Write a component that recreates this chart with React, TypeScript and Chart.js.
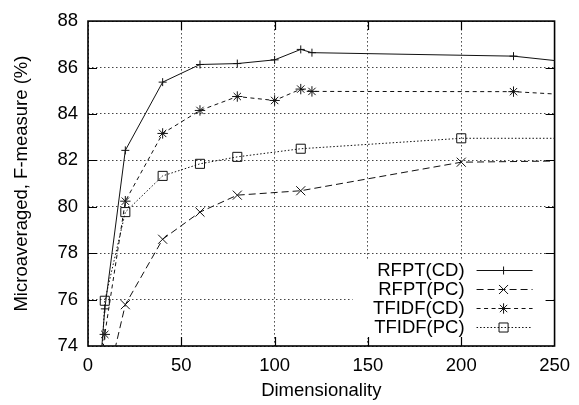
import React, { useEffect, useRef } from 'react';
import { Chart, registerables } from 'chart.js';

Chart.register(...registerables);

// ---- data ----
const seriesLabels = ['RFPT(CD)', 'RFPT(PC)', 'TFIDF(CD)', 'TFIDF(PC)'];

const cdDims = [5, 9, 20, 40, 60, 80, 100, 114, 120, 228, 300];
const rfptCD = [71.5, 75.6, 82.43, 85.37, 86.13, 86.17, 86.33, 86.78, 86.64, 86.49, 85.87];
const tfidfCD = [72.0, 74.5, 80.24, 83.16, 84.15, 84.75, 84.58, 85.07, 84.97, 84.96, 84.63];

const rfptPCDims = [9, 20, 40, 60, 80, 114, 200, 300];
const rfptPC = [72.0, 75.78, 78.6, 79.77, 80.5, 80.69, 81.92, 82.02];

const tfidfPCDims = [5, 9, 20, 40, 60, 80, 114, 200, 300];
const tfidfPC = [70.0, 75.95, 79.77, 81.33, 81.85, 82.15, 82.5, 82.95, 82.95];

const xMin = 0, xMax = 250, xStep = 50;
const yMin = 74, yMax = 88, yStep = 2;

const FONT = 'Liberation Sans, Arial, Helvetica, sans-serif';
const FS = 18.5;
const INK = '#111';

const styles = [
  { dash: [], point: 'cross', radius: 4 },
  { dash: [7, 4], point: 'crossRot', radius: 6.4 },
  { dash: [4, 3.5], point: 'star', radius: 5.2 },
  { dash: [1.5, 2], point: 'rect', radius: 6.4 },
];

function zip(xs: number[], ys: number[]) {
  return xs.map((x, i) => ({ x, y: ys[i] }));
}

function drawMarker(ctx: CanvasRenderingContext2D, kind: string, cx: number, cy: number, r: number) {
  ctx.beginPath();
  if (kind === 'cross' || kind === 'star') {
    ctx.moveTo(cx - r, cy); ctx.lineTo(cx + r, cy);
    ctx.moveTo(cx, cy - r); ctx.lineTo(cx, cy + r);
  }
  if (kind === 'crossRot' || kind === 'star') {
    const o = r * Math.SQRT1_2;
    ctx.moveTo(cx - o, cy - o); ctx.lineTo(cx + o, cy + o);
    ctx.moveTo(cx - o, cy + o); ctx.lineTo(cx + o, cy - o);
  }
  if (kind === 'rect') {
    const s = r * Math.SQRT1_2;
    ctx.rect(cx - s, cy - s, 2 * s, 2 * s);
  }
  ctx.stroke();
}

const framePlugin = {
  id: 'gnuFrame',
  beforeDatasetsDraw(chart: any) {
    const { ctx, chartArea: a, scales } = chart;
    const xs = scales.x, ys = scales.y;
    ctx.save();
    // legend backdrop hides the grid
    ctx.fillStyle = '#fff';
    ctx.fillRect(a.right - 202, a.bottom - 87, 201, 79);
    // inner ticks
    ctx.strokeStyle = '#000';
    ctx.lineWidth = 1.2;
    ctx.setLineDash([]);
    ctx.beginPath();
    for (let v = xMin + xStep; v < xMax; v += xStep) {
      const px = Math.round(xs.getPixelForValue(v)) + 0.5;
      ctx.moveTo(px, a.bottom); ctx.lineTo(px, a.bottom - 9);
      ctx.moveTo(px, a.top); ctx.lineTo(px, a.top + 9);
    }
    for (let v = yMin + yStep; v < yMax; v += yStep) {
      const py = Math.round(ys.getPixelForValue(v)) + 0.5;
      ctx.moveTo(a.left, py); ctx.lineTo(a.left + 9, py);
      ctx.moveTo(a.right, py); ctx.lineTo(a.right - 9, py);
    }
    ctx.stroke();
    ctx.lineWidth = 1.6;
    ctx.strokeRect(a.left, a.top, a.right - a.left, a.bottom - a.top);
    ctx.restore();
  },
  afterDatasetsDraw(chart: any) {
    const { ctx, chartArea: a } = chart;
    ctx.save();
    ctx.font = `${FS}px ${FONT}`;
    ctx.textAlign = 'right';
    ctx.textBaseline = 'middle';
    seriesLabels.forEach((label, i) => {
      const cy = a.bottom - 76 + i * 19;
      ctx.fillStyle = '#000';
      ctx.fillText(label, a.right - 90, cy + 1);
      const st = styles[i];
      ctx.strokeStyle = INK;
      ctx.lineWidth = 1;
      ctx.setLineDash(st.dash);
      ctx.beginPath();
      ctx.moveTo(a.right - 78, cy + 0.5);
      ctx.lineTo(a.right - 22, cy + 0.5);
      ctx.stroke();
      ctx.setLineDash([]);
      drawMarker(ctx, st.point, a.right - 51, cy + 0.5, st.radius);
    });
    ctx.restore();
  },
};

export default function App() {
  const ref = useRef<HTMLCanvasElement | null>(null);

  useEffect(() => {
    if (!ref.current) return;
    Chart.defaults.font.family = FONT;
    const seriesData = [
      zip(cdDims, rfptCD),
      zip(rfptPCDims, rfptPC),
      zip(cdDims, tfidfCD),
      zip(tfidfPCDims, tfidfPC),
    ];
    const chart = new Chart(ref.current, {
      type: 'line',
      data: {
        datasets: seriesData.map((d, i) => ({
          label: seriesLabels[i],
          data: d,
          borderColor: INK,
          borderWidth: 1,
          borderDash: styles[i].dash,
          backgroundColor: 'transparent',
          pointStyle: styles[i].point as any,
          pointRadius: styles[i].radius,
          pointBorderColor: INK,
          pointBorderWidth: 1,
          pointBackgroundColor: 'transparent',
          fill: false,
          tension: 0,
        })),
      },
      plugins: [framePlugin],
      options: {
        animation: false,
        responsive: false,
        layout: { padding: { top: 16, right: 22, left: 0, bottom: 0 } },
        plugins: { legend: { display: false }, tooltip: { enabled: false } },
        scales: {
          x: {
            type: 'linear',
            min: xMin,
            max: xMax,
            afterFit: (s: any) => { s.height = 59; },
            ticks: { stepSize: xStep, color: '#000', font: { size: FS, family: FONT }, padding: 9, maxRotation: 0 },
            grid: { color: '#444', lineWidth: 1, drawTicks: false },
            border: { display: false, dash: [1.5, 2.5] },
            title: { display: true, text: 'Dimensionality', color: '#000', font: { size: FS, family: FONT }, padding: { top: 4, bottom: 3 } },
          },
          y: {
            type: 'linear',
            min: yMin,
            max: yMax,
            afterFit: (s: any) => { s.width = 88; },
            ticks: { stepSize: yStep, color: '#000', font: { size: FS, family: FONT }, padding: 10 },
            grid: { color: '#444', lineWidth: 1, drawTicks: false },
            border: { display: false, dash: [1.5, 2.5] },
            title: { display: true, text: 'Microaveraged, F-measure (%)', color: '#000', font: { size: FS, family: FONT }, padding: { top: 11, bottom: 4 } },
          },
        },
      },
    });
    return () => chart.destroy();
  }, []);

  return (
    <div style={{ position: 'fixed', left: 0, top: 0, width: 579, height: 405, background: '#fff' }}>
      <canvas ref={ref} width={579} height={405} />
    </div>
  );
}
